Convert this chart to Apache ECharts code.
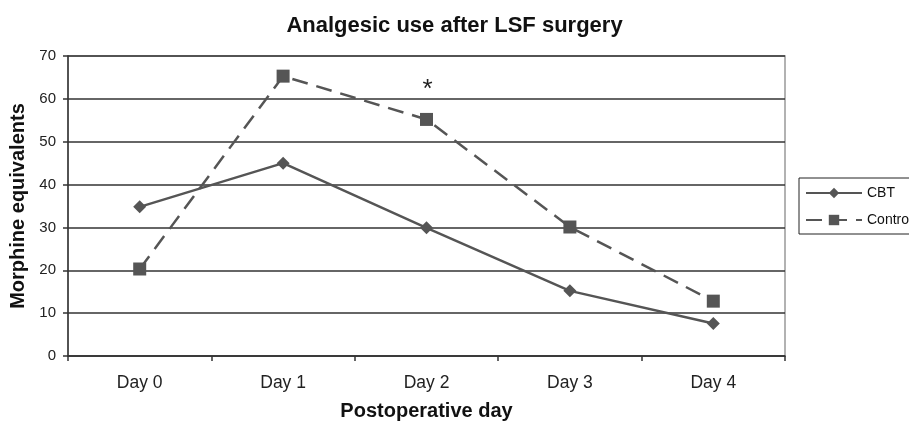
<!DOCTYPE html>
<html><head><meta charset="utf-8">
<script src="https://cdn.jsdelivr.net/npm/echarts@6/dist/echarts.min.js"></script>
<style>html,body{margin:0;padding:0;background:#fff}#c{width:909px;height:426px}</style>
</head><body><div id="c"></div>
<script>
const categories = ['Day 0', 'Day 1', 'Day 2', 'Day 3', 'Day 4'];
const cbt = [34.8, 45.0, 29.9, 15.2, 7.6];
const control = [20.3, 65.3, 55.2, 30.1, 12.8];
const yTicks = [0, 10, 20, 30, 40, 50, 60, 70];
const sigCategory = 'Day 2';
const sigValue = 63.3;

const font = '"Liberation Sans", Arial, sans-serif';
const chart = echarts.init(document.getElementById('c'), null, {renderer: 'canvas'});
chart.setOption({
  animation: false,
  backgroundColor: '#fff',
  textStyle: {fontFamily: font},
  title: {
    text: 'Analgesic use after LSF surgery',
    left: 'center', top: 10,
    textStyle: {fontFamily: font, fontSize: 22, fontWeight: 'bold', color: '#111'}
  },
  grid: {left: 68, top: 56, width: 717, height: 300, show: true, borderColor: '#999', borderWidth: 1.5, containLabel: false, outerBoundsMode: 'none'},
  legend: {
    orient: 'vertical', left: 799, top: 178,
    itemWidth: 56, itemHeight: 13, itemGap: 13,
    padding: [8, 10, 7, 6],
    borderColor: '#222', borderWidth: 1,
    textStyle: {fontFamily: font, fontSize: 14, color: '#111'},
    data: ['CBT', 'Control']
  },
  xAxis: {
    type: 'category', data: categories, boundaryGap: true,
    name: 'Postoperative day', nameLocation: 'middle', nameGap: 45,
    nameTextStyle: {fontFamily: font, fontSize: 20, fontWeight: 'bold', color: '#111'},
    axisLine: {lineStyle: {color: '#333', width: 1.5}},
    axisTick: {show: true, length: 5, lineStyle: {color: '#333', width: 1.5}},
    axisLabel: {fontFamily: font, fontSize: 17.5, color: '#222', margin: 18}
  },
  yAxis: {
    type: 'value', min: yTicks[0], max: yTicks[yTicks.length - 1], interval: 10,
    name: 'Morphine equivalents', nameLocation: 'middle', nameGap: 37,
    nameTextStyle: {fontFamily: font, fontSize: 20, fontWeight: 'bold', color: '#111'},
    axisLine: {show: true, lineStyle: {color: '#333', width: 1.5}},
    axisTick: {show: true, length: 5, lineStyle: {color: '#333', width: 1.5}},
    axisLabel: {fontFamily: font, fontSize: 15, color: '#222', margin: 12},
    splitLine: {lineStyle: {color: '#333', width: 1.5}}
  },
  series: [
    {
      name: 'CBT', type: 'line', data: cbt,
      symbol: 'diamond', symbolSize: 13,
      itemStyle: {color: '#555'},
      lineStyle: {color: '#555', width: 2.5}
    },
    {
      name: 'Control', type: 'line', data: control,
      symbol: 'rect', symbolSize: 13,
      itemStyle: {color: '#555'},
      lineStyle: {color: '#555', width: 2.5, type: [16, 9]},
      markPoint: {
        symbol: 'rect', symbolSize: 1, itemStyle: {color: 'rgba(0,0,0,0)'},
        label: {show: true, formatter: '*', fontSize: 26, color: '#222', fontFamily: font, offset: [1, 5]},
        data: [{coord: [sigCategory, sigValue]}]
      }
    }
  ]
});
</script></body></html>
